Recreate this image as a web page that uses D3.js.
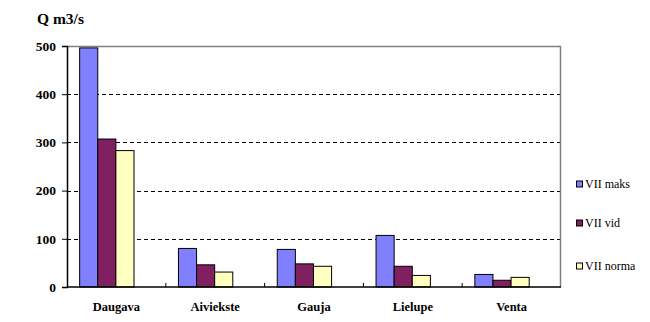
<!DOCTYPE html>
<html>
<head>
<meta charset="utf-8">
<script src="https://cdn.jsdelivr.net/npm/d3@7"></script>
<style>
  body { margin: 0; background: #fff; }
</style>
</head>
<body>
<div id="chart"></div>
<script>
// data
const rivers = ["Daugava", "Aiviekste", "Gauja", "Lielupe", "Venta"]
const seriesNames = ["VII maks", "VII vid", "VII norma"]
const maksValues = [496, 80, 78, 107, 26]
const vidValues = [307, 46, 48, 43, 14]
const normaValues = [283, 31, 43, 24, 20]
const yTicks = [0, 100, 200, 300, 400, 500]

const seriesColors = ["#8080FF", "#802060", "#FFFFC0"]
const allSeries = [maksValues, vidValues, normaValues]
const serifFont = "'Liberation Serif', 'Times New Roman', 'DejaVu Serif', serif"

const dimensions = {
  width: 650,
  height: 322,
  margin: { top: 46, right: 89, bottom: 35, left: 67 }
}
dimensions.boundedWidth = dimensions.width - dimensions.margin.left - dimensions.margin.right
dimensions.boundedHeight = dimensions.height - dimensions.margin.top - dimensions.margin.bottom

const svg = d3.select("#chart").append("svg")
    .attr("width", dimensions.width)
    .attr("height", dimensions.height)
    .style("font-family", serifFont)

const bounds = svg.append("g")
    .attr("transform", `translate(${dimensions.margin.left},${dimensions.margin.top})`)

// scales
const xScale = d3.scaleBand()
    .domain(rivers)
    .range([0, dimensions.boundedWidth])
    .padding(0)

const bw = xScale.bandwidth()
const innerScale = d3.scaleBand()
    .domain(d3.range(seriesNames.length))
    .range([bw * 0.128, bw * 0.678])
    .padding(0)

const yScale = d3.scaleLinear()
    .domain([0, 500])
    .range([dimensions.boundedHeight, 0])

// gridlines
bounds.append("g")
  .selectAll("line")
  .data(yTicks.filter(d => d > 0 && d < 500))
  .join("line")
    .attr("x1", 0)
    .attr("x2", dimensions.boundedWidth)
    .attr("y1", d => Math.round(yScale(d)) + 0.5)
    .attr("y2", d => Math.round(yScale(d)) + 0.5)
    .attr("stroke", "#000")
    .attr("stroke-dasharray", "4,3")

// plot border top/right
bounds.append("path")
    .attr("d", `M0,0.5H${dimensions.boundedWidth - 0.5}V${dimensions.boundedHeight}`)
    .attr("fill", "none")
    .attr("stroke", "#808080")
    .attr("stroke-width", 1.5)

// bars
const groups = bounds.append("g")
  .selectAll("g")
  .data(rivers)
  .join("g")
    .attr("transform", d => `translate(${xScale(d)},0)`)

groups.selectAll("rect")
  .data((d, i) => allSeries.map((s, j) => ({ j, v: s[i] })))
  .join("rect")
    .attr("x", d => innerScale(d.j))
    .attr("width", innerScale.bandwidth())
    .attr("y", d => yScale(d.v))
    .attr("height", d => dimensions.boundedHeight - yScale(d.v))
    .attr("fill", d => seriesColors[d.j])
    .attr("stroke", "#000")
    .attr("stroke-width", 1)

// axes
const yAxis = d3.axisLeft(yScale)
    .tickValues(yTicks)
    .tickSize(5)
    .tickPadding(6)

bounds.append("g").call(yAxis)
    .attr("font-family", null)
    .call(g => g.select(".domain").attr("stroke-width", 1.5))
    .call(g => g.selectAll("text")
      .style("font-family", serifFont)
      .attr("font-size", 13.5)
      .attr("font-weight", "bold")
      .attr("fill", "#000"))

const xAxis = d3.axisBottom(xScale)
    .tickSize(0)
    .tickPadding(15)

bounds.append("g")
    .attr("transform", `translate(0,${dimensions.boundedHeight})`)
    .call(xAxis)
    .attr("font-family", null)
    .call(g => g.select(".domain").attr("stroke-width", 1.5).attr("d", `M0,0H${dimensions.boundedWidth}`))
    .call(g => g.selectAll("text")
      .style("font-family", serifFont)
      .attr("font-size", 12.5)
      .attr("font-weight", "bold")
      .attr("fill", "#000"))

// category boundary ticks
bounds.append("g")
  .selectAll("line")
  .data(rivers.slice(1))
  .join("line")
    .attr("x1", d => xScale(d))
    .attr("x2", d => xScale(d))
    .attr("y1", dimensions.boundedHeight)
    .attr("y2", dimensions.boundedHeight - 4)
    .attr("stroke", "#000")

// title
svg.append("text")
    .attr("x", 37)
    .attr("y", 24)
    .style("font-family", serifFont)
    .attr("font-size", 15.5)
    .attr("font-weight", "bold")
    .text("Q m3/s")

// legend
const legendY = [184, 223, 266]
const legend = svg.append("g")
  .selectAll("g")
  .data(seriesNames)
  .join("g")
    .attr("transform", (d, i) => `translate(576,${legendY[i]})`)

legend.append("rect")
    .attr("x", 0.5)
    .attr("y", -3)
    .attr("width", 6)
    .attr("height", 6)
    .attr("fill", (d, i) => seriesColors[i])
    .attr("stroke", "#000")

legend.append("text")
    .attr("x", 9)
    .attr("y", 4)
    .style("font-family", serifFont)
    .attr("font-size", 12)
    .text(d => d)
</script>
</body>
</html>
